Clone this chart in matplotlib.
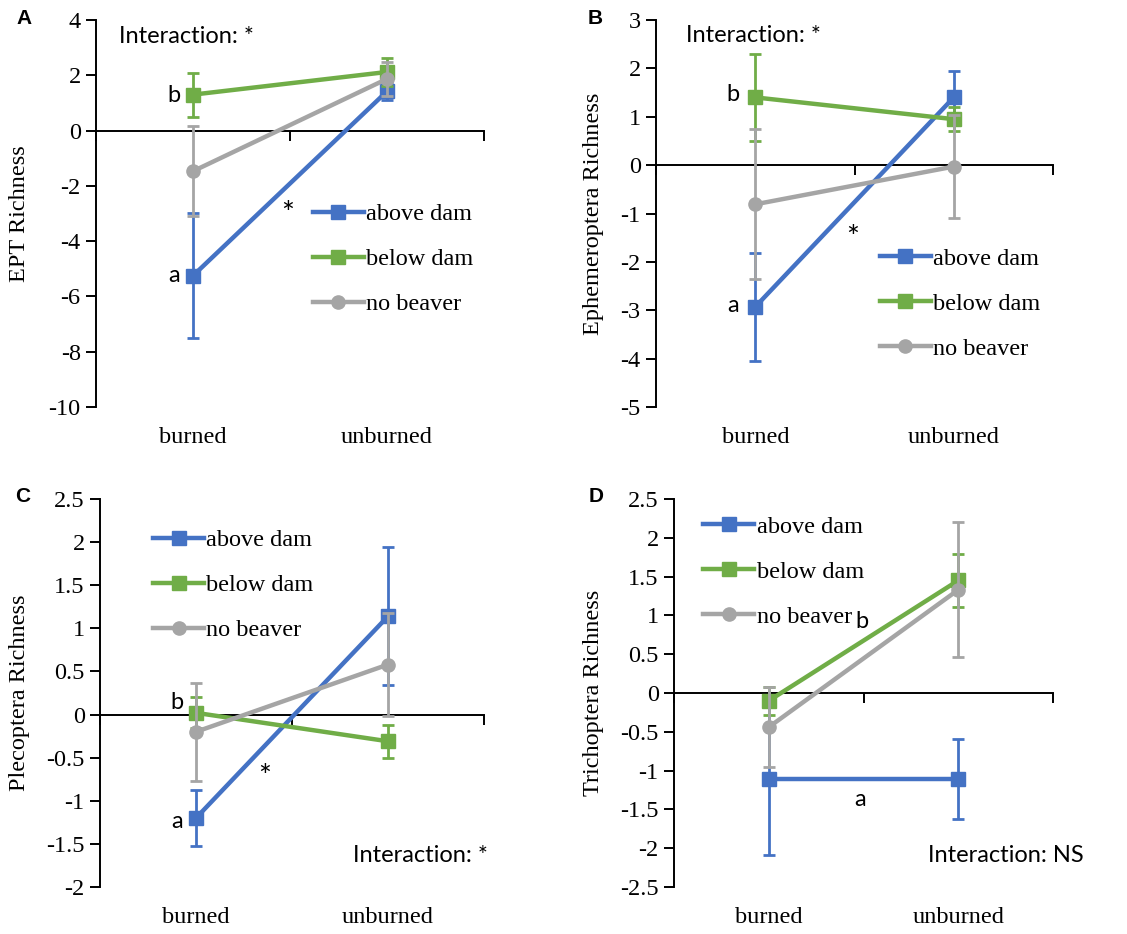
import matplotlib
matplotlib.use('Agg')
import matplotlib.pyplot as plt
from matplotlib.lines import Line2D

# ===================== data =====================
categories = ['burned', 'unburned']
series_names = ['above dam', 'below dam', 'no beaver']

# EPT richness (A)
ept_above = [-5.25, 1.42]
ept_above_err = [2.27, 0.3]
ept_below = [1.30, 2.12]
ept_below_err = [0.80, 0.52]
ept_none = [-1.47, 1.87]
ept_none_err = [1.62, 0.62]

# Ephemeroptera richness (B)
eph_above = [-2.93, 1.40]
eph_above_err = [1.12, 0.54]
eph_below = [1.40, 0.95]
eph_below_err = [0.90, 0.25]
eph_none = [-0.81, -0.03]
eph_none_err = [1.55, 1.07]

# Plecoptera richness (C)
ple_above = [-1.20, 1.14]
ple_above_err = [0.32, 0.80]
ple_below = [0.02, -0.31]
ple_below_err = [0.18, 0.19]
ple_none = [-0.20, 0.58]
ple_none_err = [0.57, 0.60]

# Trichoptera richness (D)
tri_above = [-1.11, -1.11]
tri_above_err = [0.98, 0.52]
tri_below = [-0.10, 1.45]
tri_below_err = [0.18, 0.34]
tri_none = [-0.44, 1.33]
tri_none_err = [0.52, 0.87]

colors = ['#4472C4', '#70AD47', '#A5A5A5']
markers = ['s', 's', 'o']

plt.rcParams['font.family'] = ['Liberation Serif', 'DejaVu Serif']

W, H = 1127, 934
fig = plt.figure(figsize=(W / 100, H / 100), dpi=100)

SANS = 'Lato'
FS = 17.5


def px_axes(left, top, right, bottom):
    return fig.add_axes([left / W, 1 - bottom / H, (right - left) / W, (bottom - top) / H])


def panel(box, ylab, ylab_x, letter, letter_xy, ylim, yticks, ticklabels,
          vals, errs, leg_xy, notes):
    ax = px_axes(*box)
    xs = [0.5, 1.5]
    for i in range(3):
        ax.errorbar(xs, vals[i], yerr=errs[i], color=colors[i], lw=3.2,
                    marker=markers[i], ms=9.5, capsize=4.5, elinewidth=2,
                    capthick=2, zorder=3 + i)
    ax.set_xlim(0, 2)
    ax.set_ylim(*ylim)
    ax.set_yticks(yticks)
    ax.set_yticklabels(ticklabels, fontsize=FS)
    ax.set_xticks([0, 1, 2])
    ax.set_xticklabels([])
    ax.spines['top'].set_visible(False)
    ax.spines['right'].set_visible(False)
    ax.spines['bottom'].set_position(('data', 0))
    for s in ['left', 'bottom']:
        ax.spines[s].set_linewidth(1.4)
        ax.spines[s].set_color('black')
    ax.tick_params(axis='both', direction='out', length=7, width=1.4, pad=4)
    for x, c in zip(xs, categories):
        ax.annotate(c, xy=(x, 0), xycoords=('data', 'axes fraction'),
                    xytext=(0, -22), textcoords='offset points',
                    ha='center', va='center', fontsize=FS)
    fig.text(ylab_x / W, 1 - ((box[1] + box[3]) / 2) / H, ylab, rotation=90,
             ha='center', va='center', fontsize=FS)
    fig.text(letter_xy[0] / W, 1 - letter_xy[1] / H, letter, ha='center', va='center',
             fontfamily='Liberation Sans', fontweight='bold', fontsize=15)
    handles = [Line2D([], [], color=colors[i], lw=3.2, marker=markers[i], ms=9.5)
               for i in range(3)]
    ax.legend(handles, series_names, loc='upper left',
              bbox_to_anchor=leg_xy, frameon=False, prop={'size': FS},
              handlelength=2.1, handletextpad=0.1, labelspacing=0.95, borderpad=0,
              borderaxespad=0)
    for (x, y, t, ha) in notes:
        fs = 22 if t == '*' else FS - 0.5
        ax.text(x, y, t, ha=ha, va='center', fontfamily=SANS, fontsize=fs,
                zorder=10)
    return ax


panel((96, 20, 484, 407), 'EPT Richness', 20, 'A', (24, 18), (-10, 4),
      range(-10, 5, 2), [str(v) for v in range(-10, 5, 2)],
      [ept_above, ept_below, ept_none], [ept_above_err, ept_below_err, ept_none_err],
      (0.559, 0.527),
      [(0.12, 3.4, 'Interaction: *', 'left'), (0.40, 1.27, 'b', 'center'),
       (0.40, -5.25, 'a', 'center'), (0.99, -3.0, '*', 'center')])

panel((656, 20, 1053, 407), 'Ephemeroptera Richness', 594, 'B', (595, 18), (-5, 3),
      range(-5, 4), [str(v) for v in range(-5, 4)],
      [eph_above, eph_below, eph_none], [eph_above_err, eph_below_err, eph_none_err],
      (0.564, 0.412),
      [(0.15, 2.67, 'Interaction: *', 'left'), (0.39, 1.47, 'b', 'center'),
       (0.39, -2.91, 'a', 'center'), (0.99, -1.5, '*', 'center')])

c_ticks = [-2, -1.5, -1, -0.5, 0, 0.5, 1, 1.5, 2, 2.5]
panel((100, 499, 484, 887), 'Plecoptera Richness', 20, 'C', (23, 497), (-2, 2.5),
      c_ticks, ['%g' % v for v in c_ticks],
      [ple_above, ple_below, ple_none], [ple_above_err, ple_below_err, ple_none_err],
      (0.138, 0.922),
      [(2.02, -1.63, 'Interaction: *', 'right'), (0.40, 0.14, 'b', 'center'),
       (0.40, -1.24, 'a', 'center'), (0.86, -0.72, '*', 'center')])

d_ticks = [-2.5, -2, -1.5, -1, -0.5, 0, 0.5, 1, 1.5, 2, 2.5]
panel((674, 499, 1053, 887), 'Trichoptera Richness', 594, 'D', (596, 497), (-2.5, 2.5),
      d_ticks, ['%g' % v for v in d_ticks],
      [tri_above, tri_below, tri_none], [tri_above_err, tri_below_err, tri_none_err],
      (0.077, 0.957),
      [(1.34, -2.09, 'Interaction: NS', 'left'), (0.99, 0.92, 'b', 'center'),
       (0.98, -1.37, 'a', 'center')])

fig.savefig('out.png', dpi=100)
